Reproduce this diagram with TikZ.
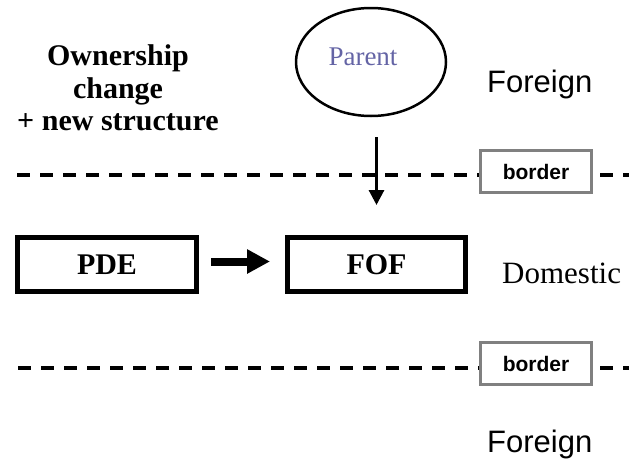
\documentclass[tikz,border=0pt]{standalone}
\usepackage{fontspec}
\setmainfont{Liberation Serif}
\newfontfamily\arialfont{Liberation Sans}
\usetikzlibrary{arrows.meta, positioning, calc, shapes.geometric}
\definecolor{parentblue}{RGB}{100,100,165}
\definecolor{bordergray}{RGB}{128,128,128}

\begin{document}
\begin{tikzpicture}[x=1pt, y=-1pt,
		firm/.style={rectangle, draw, line width=5pt, minimum width=179pt, minimum height=54pt, inner sep=0pt, font=\fontsize{30}{33}\selectfont\bfseries},
		borderbox/.style={rectangle, draw=bordergray, line width=3pt, fill=white, minimum width=111pt, minimum height=42pt, inner sep=0pt, font=\arialfont\fontsize{21}{24}\selectfont\bfseries},
		region/.style={inner sep=0pt, font=\arialfont\fontsize{31}{34}\selectfont},
		frontier/.style={line width=4pt, dash pattern=on 13pt off 10pt}]
				\useasboundingbox (0,0) rectangle (629,466);
				
				\node [align=center, inner sep=0pt, font=\fontsize{30}{32.5}\selectfont\bfseries] (change) at (118,88) {Ownership\\change\\+ new structure};
				\node [ellipse, draw, line width=2.5pt, minimum width=150pt, minimum height=108pt, inner sep=0pt,
					label={[text=parentblue, font=\fontsize{27}{30}\selectfont, xshift=-8pt, yshift=5pt]center:Parent}] (parent) at (371,62) {};
				\node [region, anchor=base west] (forup) at (487,92) {Foreign};
				
				\node [firm] (pde) at (107,264.5) {PDE};
				\node [firm, minimum width=178pt, right=86pt of pde] (fof) {FOF};
				\node [inner sep=0pt, anchor=base west, font=\fontsize{31}{34}\selectfont] (dom) at (502,283) {Domestic};
				
				\node [borderbox] (bup) at (536,171.5) {border};
				\node [borderbox] (blow) at (536,363.5) {border};
				\node [region, anchor=base west] (forlow) at (487,452) {Foreign};
				
				\coordinate (upL) at (17,175);
				\coordinate (upR) at (629,175);
				\coordinate (lowL) at (18,368);
				\coordinate (lowR) at (629,368);
				
				% dashed borders, split by the border boxes
				\draw [frontier] (upL) -- (upL -| bup.west);
				\draw [frontier, shorten <=7pt] (upL -| bup.east) -- (upR);
				\draw [frontier] (lowL) -- (lowL -| blow.west);
				\draw [frontier, shorten <=7pt] (lowL -| blow.east) -- (lowR);
				
				\draw [line width=3pt, -{Triangle[width=15pt, length=15pt]}, shorten <=20pt, shorten >=30pt]
				(parent.south -| fof.north) -- (fof.north);
				\draw [line width=8pt, -{Triangle[width=23pt, length=23pt]}, shorten <=12pt, shorten >=15pt]
				([yshift=3pt]pde.east) -- ([yshift=3pt]fof.west);
			\end{tikzpicture}
\end{document}
